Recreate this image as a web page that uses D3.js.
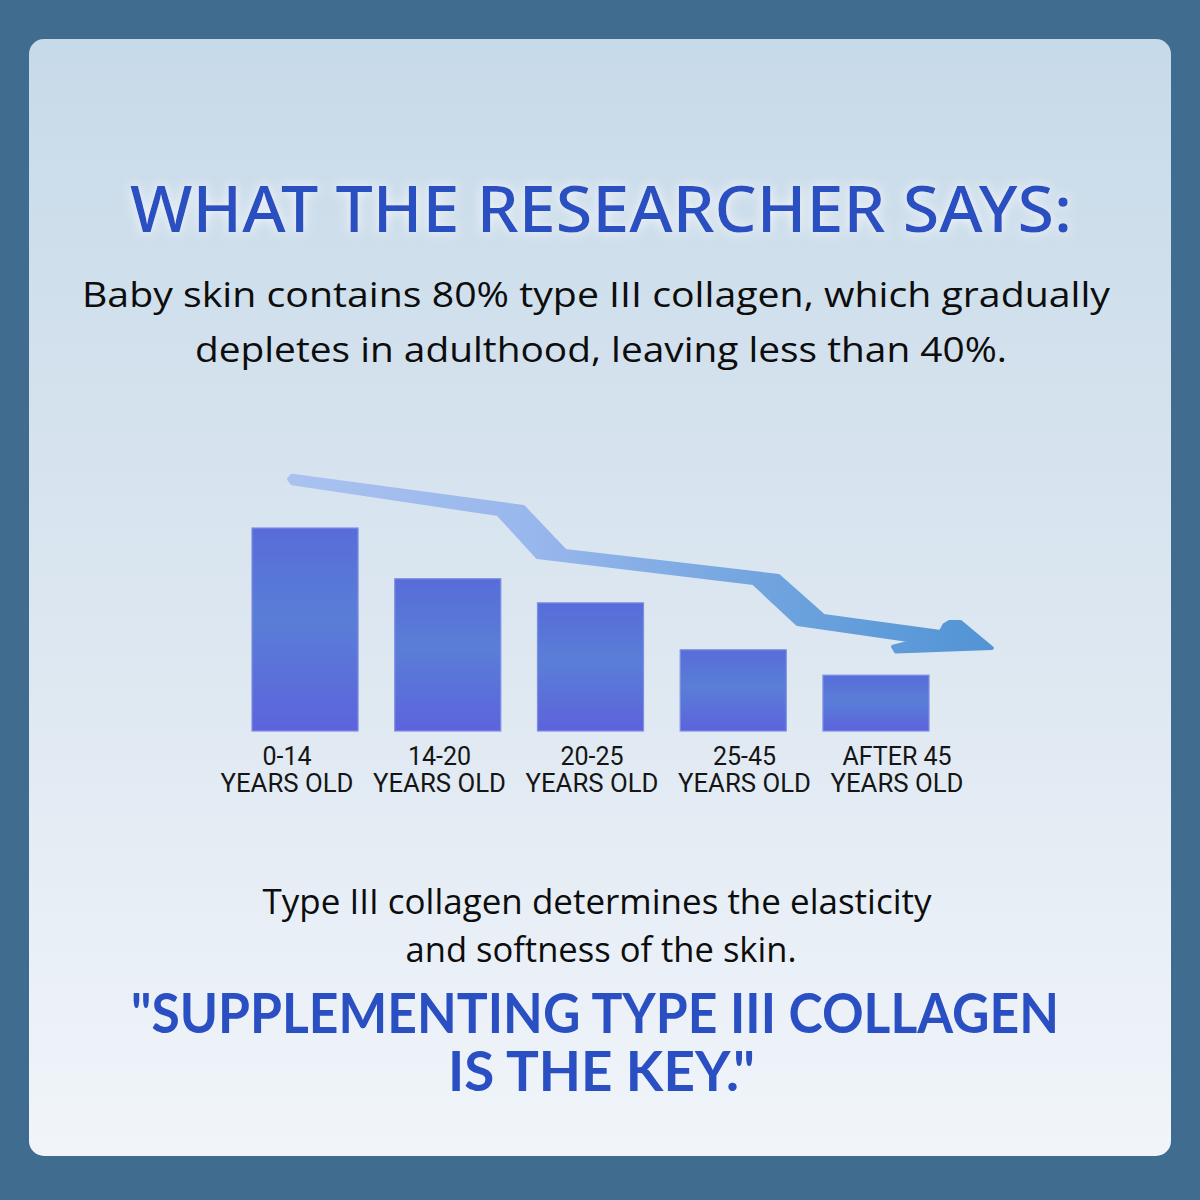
<!DOCTYPE html>
<html>
<head>
<meta charset="utf-8">
<script src="https://cdn.jsdelivr.net/npm/d3@7/dist/d3.min.js"></script>
<style>
  html, body { margin: 0; padding: 0; background: #406c90; }
  svg { display: block; }
</style>
</head>
<body>
<svg id="chart" width="1200" height="1200"></svg>
<script>
// ---------- data ----------
const categories = ["0-14", "14-20", "20-25", "25-45", "AFTER 45"];
const categorySubLabel = "YEARS OLD";
const values = [80, 60, 50.5, 32, 22];           // relative type III collagen level
const valueMax = 80;

// decorative trend arrow outline, in data space: [category index, value]
const arrowOutline = [
  [-0.112, 99.3], [-0.09, 100.6], [1.529, 88.3], [1.823, 70.9], [3.317, 61.1], [3.633, 45.3],
  [4.453, 39.0], [4.480, 41.8], [4.515, 43.0], [4.590, 43.0], [4.811, 32.7], [4.140, 31.3],
  [4.120, 33.2], [4.278, 35.5], [3.450, 42.2], [3.142, 58.3], [1.627, 68.6], [1.353, 85.5],
  [-0.09, 97.6]
];

const titleText = "WHAT THE RESEARCHER SAYS:";
const introLines = [
  "Baby skin contains 80% type III collagen, which gradually",
  "depletes in adulthood, leaving less than 40%."
];
const noteLines = [
  "Type III collagen determines the elasticity",
  "and softness of the skin."
];
const quoteLines = [
  "\"SUPPLEMENTING TYPE III COLLAGEN",
  "IS THE KEY.\""
];

// ---------- drawing ----------
const FONT = "'Open Sans', 'Noto Sans', sans-serif";
const svg = d3.select("#chart");
const defs = svg.append("defs");

const cardGrad = defs.append("linearGradient").attr("id", "cardGrad")
  .attr("x1", 0).attr("y1", 0).attr("x2", 0).attr("y2", 1);
cardGrad.append("stop").attr("offset", "0%").attr("stop-color", "#c7dae9");
cardGrad.append("stop").attr("offset", "50%").attr("stop-color", "#dbe6f0");
cardGrad.append("stop").attr("offset", "100%").attr("stop-color", "#f1f5fa");

const barGrad = defs.append("linearGradient").attr("id", "barGrad")
  .attr("x1", 0).attr("y1", 0).attr("x2", 0).attr("y2", 1);
barGrad.append("stop").attr("offset", "0%").attr("stop-color", "#586cd9");
barGrad.append("stop").attr("offset", "45%").attr("stop-color", "#5a7ed7");
barGrad.append("stop").attr("offset", "100%").attr("stop-color", "#5b63dc");

const arrowGrad = defs.append("linearGradient").attr("id", "arrowGrad")
  .attr("gradientUnits", "userSpaceOnUse")
  .attr("x1", 290).attr("y1", 0).attr("x2", 990).attr("y2", 0);
arrowGrad.append("stop").attr("offset", "0%").attr("stop-color", "#a9c2f0");
arrowGrad.append("stop").attr("offset", "35%").attr("stop-color", "#98b7ec");
arrowGrad.append("stop").attr("offset", "70%").attr("stop-color", "#6ea3de");
arrowGrad.append("stop").attr("offset", "100%").attr("stop-color", "#5294d5");

const glow = defs.append("filter").attr("id", "glow")
  .attr("x", "-10%").attr("y", "-40%").attr("width", "120%").attr("height", "180%");
glow.append("feGaussianBlur").attr("in", "SourceAlpha").attr("stdDeviation", 6).attr("result", "b");
glow.append("feFlood").attr("flood-color", "#ffffff").attr("flood-opacity", 0.85).attr("result", "f");
glow.append("feComposite").attr("in", "f").attr("in2", "b").attr("operator", "in").attr("result", "g");
const gm = glow.append("feMerge");
gm.append("feMergeNode").attr("in", "g");
gm.append("feMergeNode").attr("in", "SourceGraphic");

const soft = defs.append("filter").attr("id", "soft");
soft.append("feGaussianBlur").attr("stdDeviation", 0.7);

// background
svg.append("rect").attr("width", 1200).attr("height", 1200).attr("fill", "#406c90");
svg.append("rect").attr("x", 29).attr("y", 39).attr("width", 1142).attr("height", 1117)
  .attr("rx", 15).attr("fill", "url(#cardGrad)");

// multi-line centred text block helper
function block(lines, spec, attrs) {
  const t = svg.append("text").attr("text-anchor", "middle").attr("font-family", FONT);
  Object.entries(attrs).forEach(([k, v]) => t.attr(k, v));
  lines.forEach((s, i) => {
    t.append("tspan").attr("x", spec[i].cx).attr("y", spec[i].y)
      .attr("textLength", spec[i].w).attr("lengthAdjust", "spacingAndGlyphs")
      .text(s);
  });
  return t;
}

// title
block([titleText], [{y: 232, cx: 601, w: 942}],
  {"font-family": "'Noto Sans', sans-serif", "font-weight": 500, "font-size": 63,
   "fill": "#2a4fc1", "filter": "url(#glow)"});

// intro
block(introLines, [{y: 307, cx: 596, w: 1028}, {y: 362, cx: 601, w: 812}],
  {"font-size": 35, "fill": "#0d0d0d"});

// chart
const x = d3.scaleBand().domain(categories).range([252, 929]).paddingInner(0.257).paddingOuter(0);
const y = d3.scaleLinear().domain([0, valueMax]).range([731, 528]);
const xi = d3.scaleLinear().domain([0, categories.length - 1])
  .range([x(categories[0]) + x.bandwidth() / 2, x(categories[categories.length - 1]) + x.bandwidth() / 2]);
const xLabel = d3.scalePoint().domain(categories).range([287, 897]);

// arrow
const arrowLine = d3.line().x(d => xi(d[0])).y(d => y(d[1])).curve(d3.curveLinearClosed);
svg.append("path").attr("d", arrowLine(arrowOutline))
  .attr("fill", "url(#arrowGrad)").attr("stroke", "url(#arrowGrad)")
  .attr("stroke-width", 4).attr("stroke-linejoin", "round")
  .attr("filter", "url(#soft)");

// bars
svg.append("g").selectAll("rect").data(values).join("rect")
  .attr("x", (d, i) => x(categories[i]))
  .attr("y", d => y(d))
  .attr("width", x.bandwidth())
  .attr("height", d => y(0) - y(d))
  .attr("fill", "url(#barGrad)")
  .attr("stroke", "#7d8fe3").attr("stroke-width", 1.2)
  .attr("filter", "url(#soft)");

// category labels
const lbl = svg.append("g")
  .attr("font-family", "Roboto, 'Noto Sans', sans-serif")
  .attr("font-size", 25).attr("fill", "#151515").attr("text-anchor", "middle");
categories.forEach(c => {
  const t = lbl.append("text");
  t.append("tspan").attr("x", xLabel(c)).attr("y", 765).text(c);
  t.append("tspan").attr("x", xLabel(c)).attr("y", 792)
    .attr("textLength", 133).attr("lengthAdjust", "spacingAndGlyphs").text(categorySubLabel);
});

// note
block(noteLines, [{y: 914, cx: 597, w: 669}, {y: 962, cx: 601, w: 391}],
  {"font-size": 34, "fill": "#0d0d0d"});

// quote
block(quoteLines, [{y: 1033, cx: 595, w: 928}, {y: 1091, cx: 601.5, w: 307}],
  {"font-family": "Lato, 'Open Sans', sans-serif", "font-weight": 700, "font-size": 55, "fill": "#2a4fc2"});
</script>
</body>
</html>
